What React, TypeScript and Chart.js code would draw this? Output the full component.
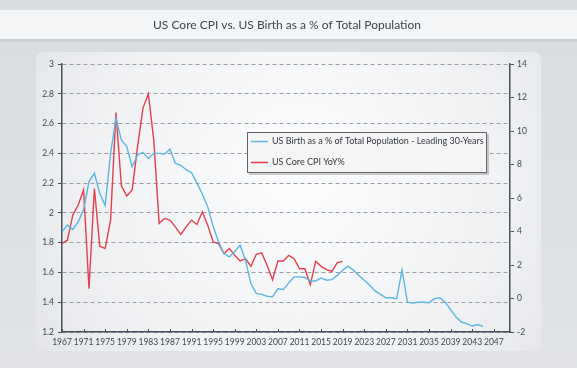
import React, { useEffect, useRef } from 'react';
import { Chart, registerables } from 'chart.js';

Chart.register(...registerables);

const TITLE = 'US Core CPI vs. US Birth as a % of Total Population';
const BIRTH_LABEL = 'US Birth as a % of Total Population - Leading 30-Years';
const CPI_LABEL = 'US Core CPI YoY%';

const birthStartYear = 1967;
const birthValues = [
  1.873, 1.918, 1.889, 1.94, 2.02, 2.21, 2.266, 2.13, 2.05, 2.4,
  2.636, 2.49, 2.446, 2.31, 2.39, 2.407, 2.365, 2.4, 2.4, 2.396,
  2.428, 2.333, 2.32, 2.29, 2.27, 2.2, 2.127, 2.04, 1.91, 1.806,
  1.727, 1.705, 1.74, 1.783, 1.68, 1.525, 1.458, 1.453, 1.44, 1.436,
  1.49, 1.485, 1.53, 1.57, 1.57, 1.566, 1.543, 1.543, 1.563, 1.548,
  1.552, 1.58, 1.615, 1.642, 1.615, 1.58, 1.548, 1.514, 1.476, 1.453,
  1.43, 1.43, 1.424, 1.615, 1.4, 1.395, 1.4, 1.4, 1.397, 1.424,
  1.43, 1.4, 1.35, 1.3, 1.267, 1.256, 1.24, 1.25, 1.238,
];

const cpiStartYear = 1967;
const cpiValues = [
  3.28, 3.48, 4.98, 5.58, 6.48, 0.59, 6.57, 3.12, 2.98, 4.68,
  11.1, 6.73, 6.12, 6.48, 9.07, 11.37, 12.22, 9.47, 4.48, 4.78,
  4.68, 4.28, 3.82, 4.28, 4.68, 4.42, 5.18, 4.38, 3.38, 3.28,
  2.68, 2.98, 2.58, 2.24, 2.38, 1.92, 2.64, 2.72, 1.98, 1.12,
  2.24, 2.24, 2.58, 2.38, 1.78, 1.78, 0.83, 2.22, 1.92, 1.72,
  1.62, 2.14, 2.22,
];

const xTickYears = [
  1967, 1971, 1975, 1979, 1983, 1987, 1991, 1995, 1999, 2003, 2007,
  2011, 2015, 2019, 2023, 2027, 2031, 2035, 2039, 2043, 2047,
];
const xMin = 1967;
const xMax = 2050;
const leftTicks = [1.2, 1.4, 1.6, 1.8, 2, 2.2, 2.4, 2.6, 2.8, 3];
const rightTicks = [-2, 0, 2, 4, 6, 8, 10, 12, 14];

const W = 577;
const H = 368;
const FONT = 'Lato, "Open Sans", sans-serif';
const AXIS = '#46525c';
const TICK_TEXT = '#3f464d';
const BLUE = '#5cb6e0';
const RED = '#e2404e';

const backgroundPlugin = {
  id: 'bgPanel',
  beforeDraw(chart: any) {
    const ctx = chart.ctx as CanvasRenderingContext2D;
    ctx.save();
    // page background
    const g = ctx.createLinearGradient(0, 0, 0, H);
    g.addColorStop(0, '#d9dce0');
    g.addColorStop(1, '#e2e4e7');
    ctx.fillStyle = g;
    ctx.fillRect(0, 0, W, H);
    // panel
    const px = 36, py = 52, pw = 505, ph = 299, r = 8;
    const rg = ctx.createRadialGradient(300, 170, 20, 300, 190, 330);
    rg.addColorStop(0, '#fbfcfd');
    rg.addColorStop(0.6, '#eff1f3');
    rg.addColorStop(1, '#e2e4e7');
    ctx.fillStyle = rg;
    ctx.beginPath();
    ctx.moveTo(px + r, py);
    ctx.lineTo(px + pw - r, py);
    ctx.quadraticCurveTo(px + pw, py, px + pw, py + r);
    ctx.lineTo(px + pw, py + ph - r);
    ctx.quadraticCurveTo(px + pw, py + ph, px + pw - r, py + ph);
    ctx.lineTo(px + r, py + ph);
    ctx.quadraticCurveTo(px, py + ph, px, py + ph - r);
    ctx.lineTo(px, py + r);
    ctx.quadraticCurveTo(px, py, px + r, py);
    ctx.closePath();
    ctx.fill();
    // title band
    ctx.fillStyle = '#f3f5f7';
    ctx.fillRect(0, 10, W, 29);
    ctx.fillStyle = '#c6cace';
    ctx.fillRect(0, 39, W, 1.5);
    ctx.fillStyle = 'rgba(0,0,0,0.04)';
    ctx.fillRect(0, 40.5, W, 2);
    // title text
    ctx.fillStyle = '#3b4650';
    ctx.font = `12px ${FONT}`;
    ctx.textAlign = 'center';
    ctx.textBaseline = 'middle';
    ctx.fillText(TITLE, 287, 25);
    ctx.restore();
  },
  afterDraw(chart: any) {
    const ctx = chart.ctx as CanvasRenderingContext2D;
    const xs = chart.scales.x;
    const area = chart.chartArea;
    ctx.save();
    // inward x tick marks
    ctx.strokeStyle = AXIS;
    ctx.lineWidth = 1;
    xs.ticks.forEach((t: any) => {
      const x = Math.round(xs.getPixelForValue(t.value)) + 0.5;
      ctx.beginPath();
      ctx.moveTo(x, area.bottom);
      ctx.lineTo(x, area.bottom - 3);
      ctx.stroke();
    });
    // legend box
    const lx = 247, ly = 132, lw = 240, lh = 41;
    ctx.fillStyle = 'rgba(0,0,0,0.18)';
    ctx.fillRect(lx + 2, ly + 2, lw, lh);
    ctx.fillStyle = '#f5f5f6';
    ctx.fillRect(lx, ly, lw, lh);
    ctx.strokeStyle = '#5f656b';
    ctx.lineWidth = 1;
    ctx.strokeRect(lx + 0.5, ly + 0.5, lw - 1, lh - 1);
    const items = chart.data.datasets.map((d: any) => ({ label: d.label, color: d.borderColor }));
    const rows = [141, 162];
    ctx.font = `9px ${FONT}`;
    ctx.textAlign = 'left';
    ctx.textBaseline = 'middle';
    items.forEach((it: any, i: number) => {
      const y = rows[i];
      ctx.strokeStyle = it.color;
      ctx.lineWidth = 1.5;
      ctx.beginPath();
      ctx.moveTo(251, y + 0.5);
      ctx.lineTo(268, y + 0.5);
      ctx.stroke();
      ctx.fillStyle = '#333a40';
      ctx.fillText(it.label, 272, y);
    });
    ctx.restore();
  },
};

export default function App() {
  const canvasRef = useRef<HTMLCanvasElement | null>(null);

  useEffect(() => {
    const canvas = canvasRef.current;
    if (!canvas) return;
    const birthData = birthValues.map((v, i) => ({ x: birthStartYear + i, y: v }));
    const cpiData = cpiValues.map((v, i) => ({ x: cpiStartYear + i, y: v }));
    const tickFont = { family: FONT, size: 8.5 };

    const chart = new Chart(canvas, {
      type: 'line',
      data: {
        datasets: [
          {
            label: BIRTH_LABEL,
            data: birthData,
            borderColor: BLUE,
            backgroundColor: BLUE,
            borderWidth: 1.4,
            pointRadius: 0,
            tension: 0,
            yAxisID: 'y',
          },
          {
            label: CPI_LABEL,
            data: cpiData,
            borderColor: RED,
            backgroundColor: RED,
            borderWidth: 1.4,
            pointRadius: 0,
            tension: 0,
            yAxisID: 'y2',
          },
        ],
      },
      options: {
        responsive: false,
        animation: false,
        devicePixelRatio: 1,
        layout: { padding: { left: 32, right: 27, top: 64, bottom: 16 } },
        plugins: {
          legend: { display: false },
          title: { display: false },
          tooltip: { enabled: false },
        },
        scales: {
          x: {
            type: 'linear',
            min: xMin,
            max: xMax,
            afterBuildTicks: (s: any) => {
              s.ticks = xTickYears.map((v) => ({ value: v }));
            },
            afterFit: (s: any) => {
              s.height = 20;
            },
            grid: { display: false, drawTicks: false, tickLength: 0 },
            border: { display: true, color: AXIS, width: 1.5 },
            ticks: {
              font: tickFont,
              color: TICK_TEXT,
              padding: 5,
              autoSkip: false,
              maxRotation: 0,
              callback: (v: any) => String(v),
            },
          },
          y: {
            position: 'left',
            min: leftTicks[0],
            max: leftTicks[leftTicks.length - 1],
            afterBuildTicks: (s: any) => {
              s.ticks = leftTicks.map((v) => ({ value: v }));
            },
            afterFit: (s: any) => {
              s.width = 30;
            },
            grid: {
              color: '#9a9da0',
              lineWidth: 1,
              tickColor: AXIS,
              tickLength: 4,
              tickBorderDash: [],
            },
            border: { display: true, color: AXIS, width: 1.5, dash: [4, 3] },
            ticks: {
              font: tickFont,
              color: TICK_TEXT,
              padding: 4,
              callback: (v: any) => String(Math.round(Number(v) * 10) / 10),
            },
          },
          y2: {
            position: 'right',
            min: rightTicks[0],
            max: rightTicks[rightTicks.length - 1],
            afterBuildTicks: (s: any) => {
              s.ticks = rightTicks.map((v) => ({ value: v }));
            },
            afterFit: (s: any) => {
              s.width = 40;
            },
            grid: {
              drawOnChartArea: false,
              color: AXIS,
              tickColor: AXIS,
              tickLength: 4,
            },
            border: { display: true, color: AXIS, width: 1.5 },
            ticks: {
              font: tickFont,
              color: TICK_TEXT,
              padding: 3,
              callback: (v: any) => String(v),
            },
          },
        },
      } as any,
      plugins: [backgroundPlugin],
    });

    return () => {
      chart.destroy();
    };
  }, []);

  return (
    <div style={{ position: 'fixed', left: 0, top: 0, width: W, height: H, overflow: 'hidden' }}>
      <canvas ref={canvasRef} width={W} height={H} style={{ display: 'block', width: W, height: H }} />
    </div>
  );
}
